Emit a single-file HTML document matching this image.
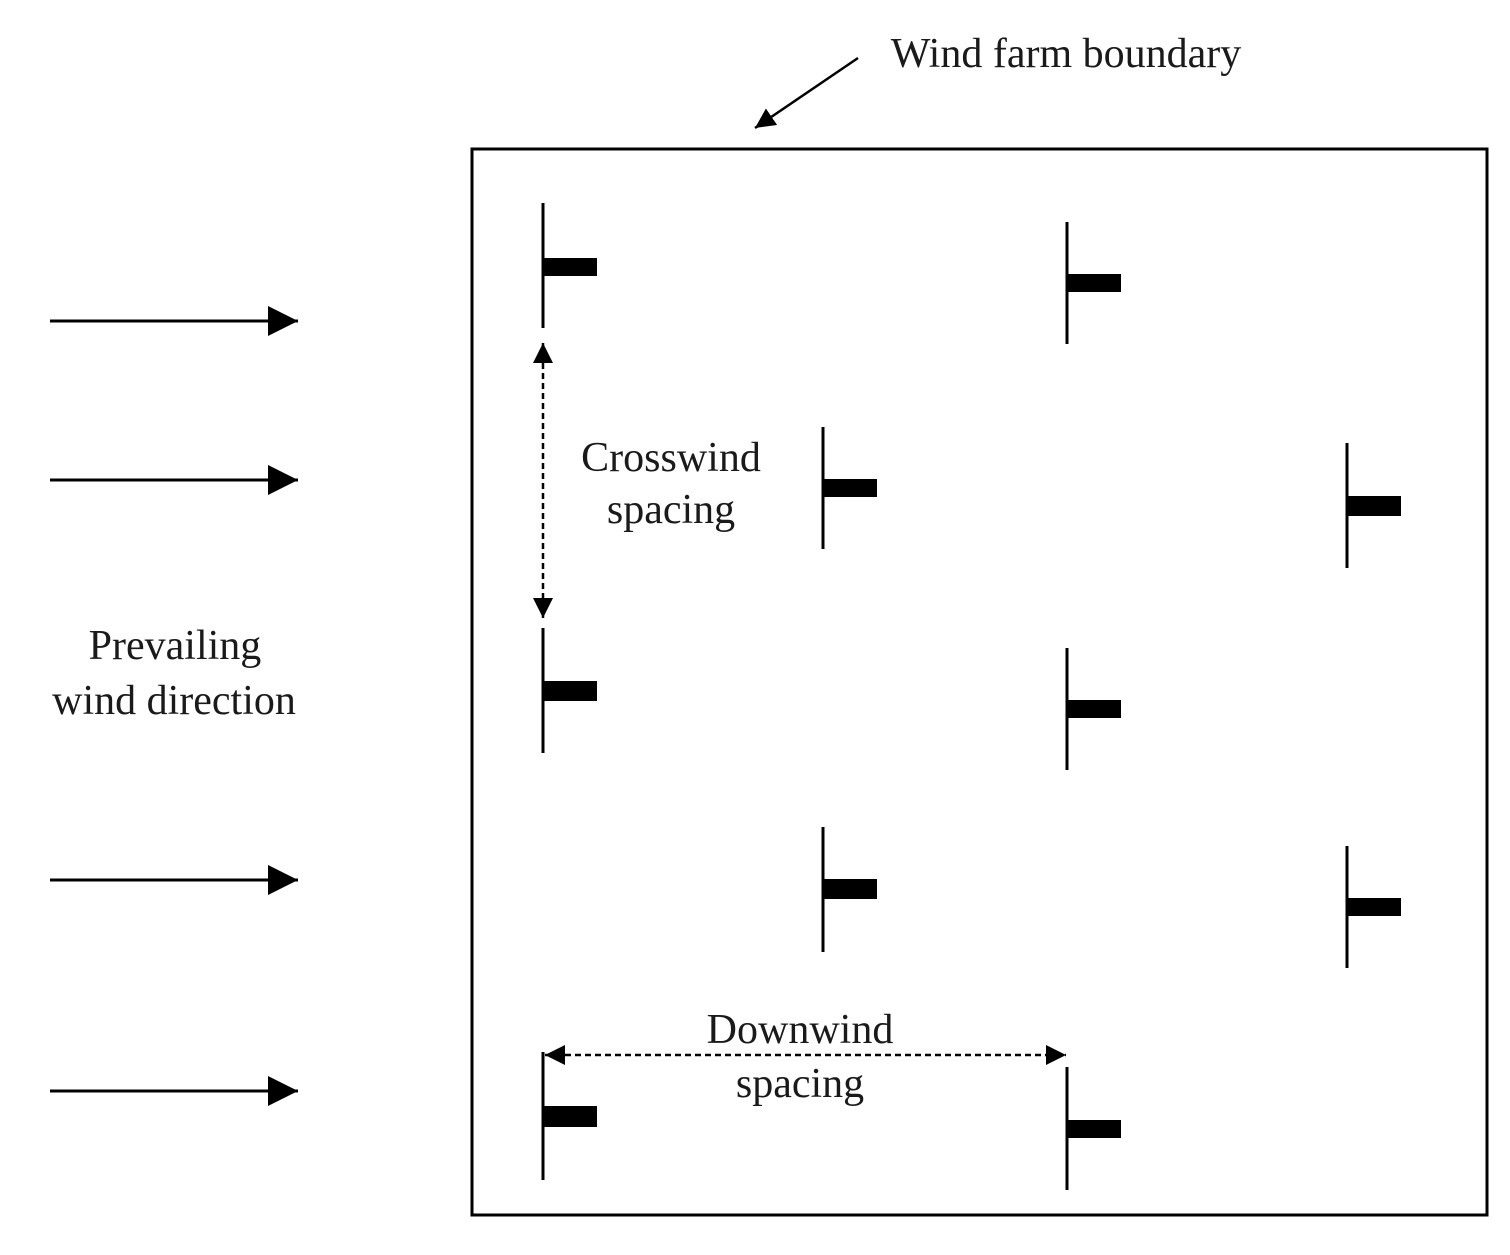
<!DOCTYPE html>
<html><head><meta charset="utf-8"><style>html,body{margin:0;padding:0;background:#fff;}svg{display:block}</style></head>
<body>
<svg width="1510" height="1255" viewBox="0 0 1510 1255" xmlns="http://www.w3.org/2000/svg">
<defs>
<marker id="ah" markerWidth="10" markerHeight="10" refX="9" refY="5" orient="auto" markerUnits="userSpaceOnUse">
<path d="M0,0 L10,5 L0,10 z" fill="#000"/></marker>
<marker id="big" viewBox="0 0 10 10" markerWidth="32" markerHeight="30" refX="10" refY="5" orient="auto" markerUnits="userSpaceOnUse">
<path d="M0,0 L10,5 L0,10 z" fill="#000"/></marker>
<marker id="sm" viewBox="0 0 10 10" markerWidth="20" markerHeight="20" refX="10" refY="5" orient="auto-start-reverse" markerUnits="userSpaceOnUse">
<path d="M0,0 L10,5 L0,10 z" fill="#000"/></marker>
</defs>
<rect x="472" y="149" width="1015" height="1066" fill="none" stroke="#000" stroke-width="3"/>
<g stroke="#000" stroke-width="3">
<line x1="543" y1="203" x2="543" y2="328"/>
<line x1="1067" y1="222" x2="1067" y2="344"/>
<line x1="823" y1="427" x2="823" y2="549"/>
<line x1="1347" y1="443" x2="1347" y2="568"/>
<line x1="543" y1="628" x2="543" y2="753"/>
<line x1="1067" y1="648" x2="1067" y2="770"/>
<line x1="823" y1="827" x2="823" y2="952"/>
<line x1="1347" y1="846" x2="1347" y2="968"/>
<line x1="543" y1="1052" x2="543" y2="1180"/>
<line x1="1067" y1="1067" x2="1067" y2="1190"/>
</g>
<g fill="#000">
<rect x="543" y="258" width="54" height="18"/>
<rect x="1067" y="274" width="54" height="18"/>
<rect x="823" y="479" width="54" height="18"/>
<rect x="1347" y="496" width="54" height="20"/>
<rect x="543" y="681" width="54" height="20"/>
<rect x="1067" y="700" width="54" height="18"/>
<rect x="823" y="879" width="54" height="20"/>
<rect x="1347" y="898" width="54" height="18"/>
<rect x="543" y="1106" width="54" height="21"/>
<rect x="1067" y="1120" width="54" height="18"/>
</g>
<g stroke="#000" stroke-width="3">
<line x1="50" y1="321" x2="298" y2="321" marker-end="url(#big)"/>
<line x1="50" y1="480" x2="298" y2="480" marker-end="url(#big)"/>
<line x1="50" y1="880" x2="298" y2="880" marker-end="url(#big)"/>
<line x1="50" y1="1091" x2="298" y2="1091" marker-end="url(#big)"/>
<line x1="858" y1="58" x2="755" y2="128" stroke-width="2.5" marker-end="url(#sm)"/>
</g>
<g stroke="#000" stroke-width="2.5" stroke-dasharray="6,4">
<line x1="543" y1="343" x2="543" y2="618" marker-start="url(#sm)" marker-end="url(#sm)"/>
<line x1="545" y1="1055" x2="1066" y2="1055" marker-start="url(#sm)" marker-end="url(#sm)"/>
</g>
<g font-family="Liberation Serif, serif" font-size="42" fill="#1a1a1a" text-anchor="middle">
<text x="1066" y="67">Wind farm boundary</text>
<text x="671" y="471">Crosswind</text>
<text x="671" y="523">spacing</text>
<text x="175" y="659">Prevailing</text>
<text x="174" y="714">wind direction</text>
<text x="800" y="1043">Downwind</text>
<text x="800" y="1097">spacing</text>
</g>
</svg>
</body></html>
